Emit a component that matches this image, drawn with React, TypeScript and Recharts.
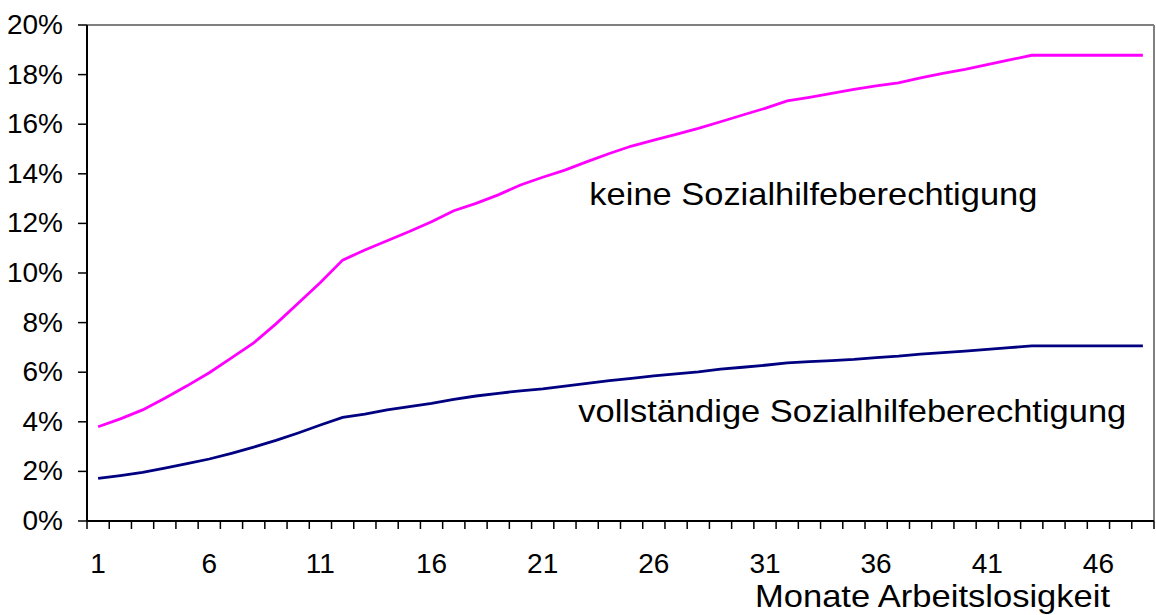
import React from "react";
import { LineChart, Line, XAxis, YAxis, ReferenceLine, ReferenceDot } from "recharts";

const months = Array.from({ length: 48 }, (_, i) => i + 1);
const keine = [
  3.80, 4.12, 4.48, 4.95, 5.45, 5.98, 6.58, 7.18, 7.95, 8.78, 9.62, 10.52,
  10.93, 11.3, 11.67, 12.07, 12.51, 12.81, 13.15, 13.55, 13.86, 14.15, 14.49, 14.82,
  15.12, 15.36, 15.59, 15.83, 16.1, 16.37, 16.64, 16.94, 17.08, 17.24, 17.4, 17.55,
  17.67, 17.87, 18.05, 18.21, 18.4, 18.59, 18.78, 18.78, 18.78, 18.78, 18.78, 18.78,
];
const voll = [
  1.72, 1.83, 1.96, 2.13, 2.31, 2.5, 2.73, 2.98, 3.25, 3.55, 3.87, 4.18,
  4.31, 4.48, 4.61, 4.74, 4.9, 5.04, 5.15, 5.25, 5.33, 5.44, 5.55, 5.66,
  5.75, 5.85, 5.93, 6.01, 6.12, 6.2, 6.28, 6.38, 6.43, 6.47, 6.52, 6.59,
  6.65, 6.73, 6.79, 6.85, 6.92, 6.99, 7.06, 7.06, 7.06, 7.06, 7.06, 7.06,
];
const yTicks = [0, 2, 4, 6, 8, 10, 12, 14, 16, 18, 20];
const xLabelTicks = [1, 6, 11, 16, 21, 26, 31, 36, 41, 46];
const xMarkTicks = Array.from({ length: 49 }, (_, i) => i + 0.5);
const xTitle = "Monate Arbeitslosigkeit";
const labelKeine = "keine Sozialhilfeberechtigung";
const labelVoll = "vollständige Sozialhilfeberechtigung";

const data = months.map((m, i) => ({ month: m, keine: keine[i], voll: voll[i] }));

const FONT = "'Liberation Sans', Arial, sans-serif";
const TICK_FS = 28;

const annot = (text: string, len: number) => (props: any) => (
  <text
    x={props.cx}
    y={props.cy}
    fontFamily={FONT}
    fontSize={32}
    fill="#000"
    textLength={len}
    lengthAdjust="spacingAndGlyphs"
  >
    {text}
  </text>
);

const titleContent = (props: any) => {
  const vb = props.viewBox || {};
  return (
    <text
      x={vb.x + vb.width - 44}
      y={vb.y + vb.height - 8}
      textAnchor="end"
      fontFamily={FONT}
      fontSize={32}
      fill="#000"
      textLength={355}
      lengthAdjust="spacingAndGlyphs"
    >
      {xTitle}
    </text>
  );
};

const markTick = (props: any) => (
  <line
    x1={props.x}
    x2={props.x}
    y1={props.y - 8}
    y2={props.y}
    stroke="#000"
    strokeWidth={1.5}
  />
);

const xLabelTick = (props: any) => (
  <text
    x={props.x}
    y={props.y + 19}
    textAnchor="middle"
    fontFamily={FONT}
    fontSize={TICK_FS}
    fill="#000"
  >
    {props.payload.value}
  </text>
);

const yLabelTick = (props: any) => (
  <text
    x={props.x}
    y={props.y + 9}
    textAnchor="end"
    fontFamily={FONT}
    fontSize={TICK_FS}
    fill="#000"
  >
    {`${props.payload.value}%`}
  </text>
);

export default function App() {
  return (
    <div style={{ position: "absolute", left: 0, top: 0, background: "#fff" }}>
      <LineChart
        width={1156}
        height={615}
        data={data}
        margin={{ top: 25, right: 2, bottom: 0, left: 0 }}
      >
        <XAxis
          xAxisId="a"
          dataKey="month"
          type="number"
          domain={[0.5, 48.5]}
          ticks={xMarkTicks}
          interval={0}
          height={1}
          tickSize={8}
          tickMargin={0}
          tick={markTick}
          axisLine={{ stroke: "#000", strokeWidth: 2 }}
          tickLine={false}
        />
        <XAxis
          xAxisId="b"
          dataKey="month"
          type="number"
          domain={[0.5, 48.5]}
          ticks={xLabelTicks}
          interval={0}
          height={93}
          tickSize={0}
          tickMargin={32}
          axisLine={false}
          tickLine={false}
          tick={xLabelTick}
          label={{ content: titleContent }}
        />
        <YAxis
          domain={[0, 20]}
          ticks={yTicks}
          interval={0}
          width={87}
          tickSize={9}
          tickMargin={15}
          axisLine={{ stroke: "#000", strokeWidth: 2 }}
          tickLine={{ stroke: "#000", strokeWidth: 1.5 }}
          tick={yLabelTick}
        />
        <ReferenceLine xAxisId="b" y={20} stroke="#808080" strokeWidth={2} />
        <ReferenceLine xAxisId="b" x={48.5} stroke="#808080" strokeWidth={2} />
        <Line
          xAxisId="b"
          type="linear"
          dataKey="keine"
          stroke="#FF00FF"
          strokeWidth={2.8}
          dot={false}
          isAnimationActive={false}
        />
        <Line
          xAxisId="b"
          type="linear"
          dataKey="voll"
          stroke="#000080"
          strokeWidth={2.8}
          dot={false}
          isAnimationActive={false}
        />
        <ReferenceDot xAxisId="b" x={23.1} y={12.74} r={1} shape={annot(labelKeine, 448)} />
        <ReferenceDot xAxisId="b" x={22.6} y={3.99} r={1} shape={annot(labelVoll, 548)} />
      </LineChart>
    </div>
  );
}
